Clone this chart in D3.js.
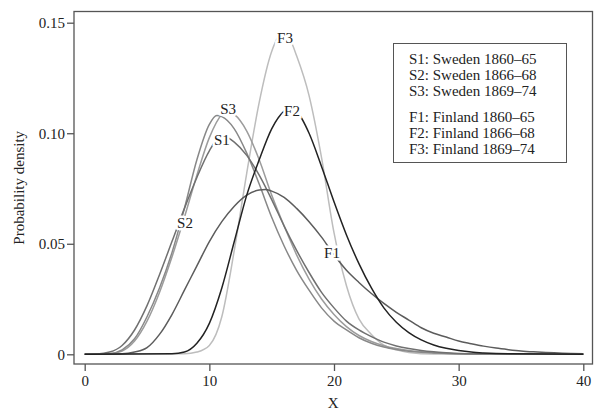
<!DOCTYPE html>
<html>
<head>
<meta charset="utf-8">
<script src="https://d3js.org/d3.v7.min.js"></script>
<style>
  body { margin: 0; background: #fff; }
  text { font-family: "Liberation Serif", "Times New Roman", serif; }
</style>
</head>
<body>
<svg width="594" height="411"></svg>
<script>
// density curves, [x, density]
var sweden1 = [[0,0],[1,0.0001],[2,0.001],[3,0.004],[4,0.011],[5,0.022],[6,0.036],[7,0.051],[8,0.066],[9,0.080],[10,0.092],[11,0.099],[12,0.096],[13,0.090],[14,0.081],[15,0.070],[16,0.058],[17,0.047],[18,0.037],[19,0.028],[20,0.021],[21,0.015],[22,0.011],[23,0.008],[24,0.0055],[25,0.0038],[26,0.0026],[27,0.0017],[28,0.0011],[29,0.0007],[30,0.0004],[32,0.0002],[35,0.0001],[40,0]];
var sweden2 = [[0,0],[1,0],[2,0.0003],[3,0.002],[4,0.007],[5,0.017],[6,0.030],[7,0.046],[8,0.066],[9,0.088],[10,0.104],[10.6,0.108],[11,0.1075],[12,0.102],[13,0.091],[14,0.077],[15,0.062],[16,0.049],[17,0.038],[18,0.029],[19,0.021],[20,0.015],[21,0.011],[22,0.0075],[23,0.005],[24,0.0033],[25,0.0022],[26,0.0014],[27,0.0009],[28,0.0006],[30,0.0002],[33,0.0001],[40,0]];
var sweden3 = [[0,0],[2,0.0002],[3,0.0015],[4,0.006],[5,0.015],[6,0.028],[7,0.044],[8,0.062],[9,0.081],[10,0.098],[11,0.1085],[11.4,0.110],[12,0.1085],[13,0.101],[14,0.088],[15,0.072],[16,0.058],[17,0.045],[18,0.034],[19,0.025],[20,0.018],[21,0.0125],[22,0.0085],[23,0.0058],[24,0.0039],[25,0.0026],[26,0.0017],[27,0.0011],[28,0.0007],[30,0.0003],[33,0.0001],[40,0]];
var finland1 = [[0,0],[3,0.0002],[4,0.001],[5,0.003],[6,0.009],[7,0.018],[8,0.029],[9,0.040],[10,0.051],[11,0.060],[12,0.067],[13,0.072],[14,0.0743],[14.5,0.0745],[15,0.0738],[16,0.071],[17,0.066],[18,0.060],[19,0.053],[20,0.045],[21,0.038],[22,0.0325],[23,0.0275],[24,0.023],[25,0.019],[26,0.0155],[27,0.012],[28,0.0095],[29,0.0078],[30,0.006],[31,0.0048],[32,0.0037],[33,0.0028],[34,0.0021],[35,0.0015],[36,0.0011],[37,0.0008],[38,0.0006],[39,0.0004],[40,0.0003]];
var finland2 = [[0,0],[7,0.0002],[8,0.001],[9,0.005],[10,0.014],[11,0.030],[12,0.051],[13,0.072],[14,0.088],[15,0.102],[16,0.110],[16.5,0.1115],[17,0.110],[18,0.100],[19,0.085],[20,0.069],[21,0.054],[22,0.041],[23,0.030],[24,0.021],[25,0.0145],[26,0.0098],[27,0.0065],[28,0.0042],[29,0.0027],[30,0.0017],[31,0.001],[32,0.0006],[34,0.0002],[40,0]];
var finland3 = [[0,0],[8,0.0002],[9,0.001],[10,0.004],[11,0.017],[12,0.047],[13,0.082],[14,0.114],[15,0.137],[15.8,0.145],[16.5,0.142],[17,0.135],[18,0.117],[19,0.089],[20,0.055],[21,0.031],[22,0.016],[23,0.009],[24,0.0042],[25,0.002],[26,0.0008],[28,0.0001],[40,0]];

var xTicks = [0, 10, 20, 30, 40];
var yTicks = [0, 0.05, 0.10, 0.15];
var yTickLabels = ["0", "0.05", "0.10", "0.15"];

var legendSweden = ["S1: Sweden 1860\u201365", "S2: Sweden 1866\u201368", "S3: Sweden 1869\u201374"];
var legendFinland = ["F1: Finland 1860\u201365", "F2: Finland 1866\u201368", "F3: Finland 1869\u201374"];

var series = [
  {name: "F3", values: finland3, color: "#bdbdbd", label: [16.07, 0.1431]},
  {name: "S3", values: sweden3, color: "#9c9c9c", label: [11.5, 0.1110]},
  {name: "S2", values: sweden2, color: "#888888", label: [8.05, 0.0595]},
  {name: "S1", values: sweden1, color: "#707070", label: [11.0, 0.0969]},
  {name: "F1", values: finland1, color: "#5c5c5c", label: [19.84, 0.0458]},
  {name: "F2", values: finland2, color: "#222222", label: [16.63, 0.1101]}
];

var svg = d3.select("svg");
var frame = {left: 74, right: 592.5, top: 11.5, bottom: 364};

var x = d3.scaleLinear().domain([0, 40]).range([84.7, 583.3]);
var y = d3.scaleLinear().domain([0, 0.15]).range([354.3, 22.7]);

var line = d3.line()
    .x(function(d) { return x(d[0]); })
    .y(function(d) { return y(d[1]); })
    .curve(d3.curveMonotoneX);

svg.append("g")
    .selectAll("path")
    .data(series)
    .enter().append("path")
    .attr("d", function(d) { return line(d.values); })
    .attr("fill", "none")
    .attr("stroke", function(d) { return d.color; })
    .attr("stroke-width", 1.5);

// curve labels, white halo cuts the line like the original
svg.append("g")
    .selectAll("text")
    .data(series)
    .enter().append("text")
    .attr("x", function(d) { return x(d.label[0]); })
    .attr("y", function(d) { return y(d.label[1]); })
    .attr("dy", "0.35em")
    .attr("text-anchor", "middle")
    .style("font-size", "15px")
    .style("paint-order", "stroke")
    .attr("stroke", "#fff")
    .attr("stroke-width", 5)
    .attr("fill", "#222")
    .text(function(d) { return d.name; });

// frame
svg.append("rect")
    .attr("x", frame.left)
    .attr("y", frame.top)
    .attr("width", frame.right - frame.left)
    .attr("height", frame.bottom - frame.top)
    .attr("fill", "none")
    .attr("stroke", "#555")
    .attr("stroke-width", 1.3);

var xAxis = svg.append("g")
    .attr("transform", "translate(0," + frame.bottom + ")")
    .call(d3.axisBottom(x).tickValues(xTicks).tickSize(7).tickPadding(4));

var yAxis = svg.append("g")
    .attr("transform", "translate(" + frame.left + ",0)")
    .call(d3.axisLeft(y).tickValues(yTicks).tickSize(7).tickPadding(2)
      .tickFormat(function(d, i) { return yTickLabels[i]; }));

[xAxis, yAxis].forEach(function(a) {
  a.select(".domain").remove();
  a.selectAll(".tick line").attr("stroke", "#555").attr("stroke-width", 1.3);
  a.selectAll(".tick text")
    .attr("fill", "#222")
    .style("font-size", "15px")
    .style("font-family", "'Liberation Serif', 'Times New Roman', serif");
});

svg.append("text")
    .attr("x", (frame.left + frame.right) / 2)
    .attr("y", 408)
    .attr("text-anchor", "middle")
    .attr("fill", "#222")
    .style("font-size", "15px")
    .text("X");

svg.append("text")
    .attr("transform", "translate(24," + ((frame.top + frame.bottom) / 2) + ") rotate(-90)")
    .attr("text-anchor", "middle")
    .attr("fill", "#222")
    .style("font-size", "15px")
    .text("Probability density");

// legend
var legend = svg.append("g");
legend.append("rect")
    .attr("x", 393.5)
    .attr("y", 43.5)
    .attr("width", 173)
    .attr("height", 119)
    .attr("fill", "#fff")
    .attr("stroke", "#555")
    .attr("stroke-width", 1);

legend.selectAll("text.sw")
    .data(legendSweden)
    .enter().append("text")
    .attr("class", "sw")
    .attr("x", 409)
    .attr("y", function(d, i) { return 64 + i * 16; })
    .attr("fill", "#222")
    .style("font-size", "15px")
    .text(function(d) { return d; });

legend.selectAll("text.fi")
    .data(legendFinland)
    .enter().append("text")
    .attr("class", "fi")
    .attr("x", 409)
    .attr("y", function(d, i) { return 122 + i * 16; })
    .attr("fill", "#222")
    .style("font-size", "15px")
    .text(function(d) { return d; });
</script>
</body>
</html>
